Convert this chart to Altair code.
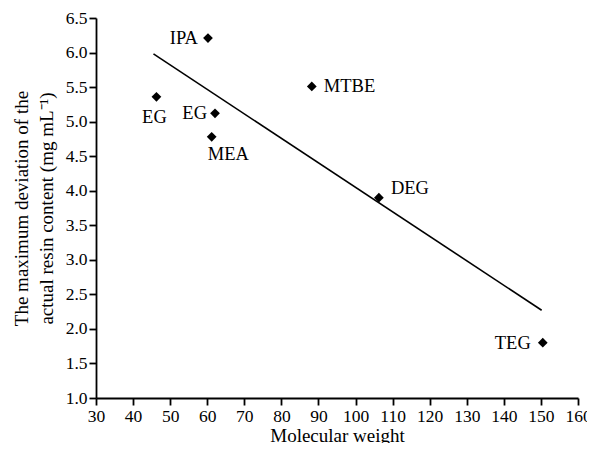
import altair as alt
import pandas as pd

# Data
names = ["IPA", "EG", "EG", "MEA", "MTBE", "DEG", "TEG"]
mol_weight = [60.2, 46.3, 62.1, 61.2, 88.2, 106.3, 150.5]
deviation = [6.21, 5.36, 5.12, 4.78, 5.51, 3.90, 1.80]

fit_x = [45.5, 150.2]
fit_y = [5.98, 2.27]

x_ticks = [30, 40, 50, 60, 70, 80, 90, 100, 110, 120, 130, 140, 150, 160]
y_ticks = [1.0, 1.5, 2.0, 2.5, 3.0, 3.5, 4.0, 4.5, 5.0, 5.5, 6.0, 6.5]

pts = pd.DataFrame({"name": names, "mw": mol_weight, "dev": deviation})
fit = pd.DataFrame({"mw": fit_x, "dev": fit_y})

# label placement styles (align, dx, dy), one per point
label_styles = [
    ("right", -10, 0),
    ("center", -2, 20),
    ("right", -8, 0),
    ("left", -4, 17),
    ("left", 12, 0),
    ("left", 12, -10),
    ("right", -12, 0),
]

FONT = "Liberation Serif"

xscale = alt.Scale(domain=[30, 160], nice=False, zero=False)
yscale = alt.Scale(domain=[1.0, 6.5], nice=False, zero=False)

xenc = alt.X("mw:Q", scale=xscale,
             axis=alt.Axis(title="Molecular weight", values=x_ticks, format="d",
                           titlePadding=2, labelOverlap=False, labelBound=False,
                           labelFlush=False))
yenc = alt.Y("dev:Q", scale=yscale,
             axis=alt.Axis(title=["The maximum deviation of the",
                                  "actual resin content (mg mL⁻¹)"],
                           values=y_ticks, format=".1f", titlePadding=9,
                           titleLineHeight=25, labelOverlap=False))

line = alt.Chart(fit).mark_line(color="black", strokeWidth=1.6).encode(x=xenc, y=yenc)

points = alt.Chart(pts).mark_point(shape="diamond", filled=True, color="black",
                                   size=95, opacity=1).encode(x=xenc, y=yenc)

layers = [line, points]
for i, (al, dx, dy) in enumerate(label_styles):
    layers.append(
        alt.Chart(pts.iloc[[i]]).mark_text(align=al, baseline="middle", dx=dx, dy=dy,
                                           font=FONT, fontSize=18.5, color="black")
        .encode(x=xenc, y=yenc, text="name:N")
    )

chart = alt.layer(*layers).properties(
    width=482, height=380,
    autosize=alt.AutoSizeParams(type="none"),
    padding={"left": 88, "top": 10, "right": 9, "bottom": 45},
).configure_view(stroke=None).configure_axis(
    grid=False,
    domainColor="black", domainWidth=1.8,
    tickColor="black", tickWidth=1.8, tickSize=7,
    labelFont=FONT, labelFontSize=17.5, labelColor="black", labelPadding=2,
    titleFont=FONT, titleFontSize=19, titleFontWeight="normal", titleColor="black",
)

chart.save("out.html", embed_options={"renderer": "svg", "actions": False})
